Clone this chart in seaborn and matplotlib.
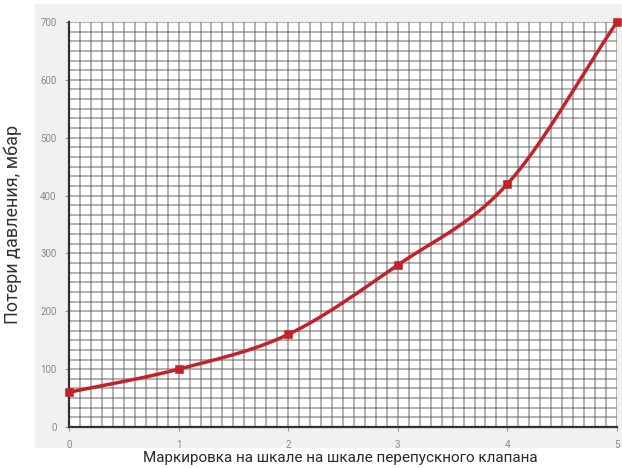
import numpy as np
import pandas as pd
import matplotlib
matplotlib.use("Agg")
import matplotlib.pyplot as plt
import seaborn as sns

# Valve scale setting vs pressure loss
marks = [0, 1, 2, 3, 4, 5]
loss_mbar = [60, 100, 160, 280, 420, 700]
x_ticks = [0, 1, 2, 3, 4, 5]
y_ticks = [0, 100, 200, 300, 400, 500, 600, 700]
x_label = "Маркировка на шкале на шкале перепускного клапана"
y_label = "Потери давления, мбар"


def catmull_rom(xs, ys, n=40):
    """Smooth curve through the given points (Catmull-Rom segments)."""
    xs = np.asarray(xs, float)
    ys = np.asarray(ys, float)
    px = np.concatenate([[2 * xs[0] - xs[1]], xs, [2 * xs[-1] - xs[-2]]])
    py = np.concatenate([[2 * ys[0] - ys[1]], ys, [2 * ys[-1] - ys[-2]]])
    out_x, out_y = [], []
    t = np.linspace(0, 1, n, endpoint=False)
    for i in range(1, len(px) - 2):
        for arr, out in ((px, out_x), (py, out_y)):
            p0, p1, p2, p3 = arr[i - 1], arr[i], arr[i + 1], arr[i + 2]
            seg = 0.5 * ((2 * p1) + (-p0 + p2) * t
                         + (2 * p0 - 5 * p1 + 4 * p2 - p3) * t ** 2
                         + (-p0 + 3 * p1 - 3 * p2 + p3) * t ** 3)
            out.extend(seg)
    out_x.append(xs[-1])
    out_y.append(ys[-1])
    return np.array(out_x), np.array(out_y)


sns.set_theme(style="white")
plt.rcParams["font.family"] = ["Roboto", "DejaVu Sans"]

fig = plt.figure(figsize=(6.22, 4.68), dpi=100)
fig.patch.set_facecolor("white")

# light grey panel behind the plot
bg = fig.add_axes([35 / 622, 1 - 448 / 468, 1 - 35 / 622, 444 / 468])
bg.set_facecolor("#f1f1f1")
bg.set_xticks([])
bg.set_yticks([])
for s in bg.spines.values():
    s.set_visible(False)
bg.set_zorder(0)

ax = fig.add_axes([69 / 622, 1 - 427 / 468, 548 / 622, 405 / 468])
ax.set_zorder(1)
ax.set_facecolor("white")

# graph-paper grid
for gx in np.arange(0, 5.0001, 0.1):
    ax.axvline(gx, color="#5a5a5a", lw=1.1, alpha=0.6, zorder=1)
for gy in np.arange(0, 700.001, 700 / 42):
    ax.axhline(gy, color="#5a5a5a", lw=1.1, alpha=0.6, zorder=1)

sx, sy = catmull_rom(marks, loss_mbar)
curve = pd.DataFrame({"x": sx, "y": sy})
pts = pd.DataFrame({"x": marks, "y": loss_mbar})

red = "#c4222a"
sns.lineplot(data=curve, x="x", y="y", ax=ax, color=red, lw=2.5,
             sort=False, zorder=3, clip_on=False)
sns.scatterplot(data=pts, x="x", y="y", ax=ax, marker="s", s=28,
                color=red, edgecolor=red, zorder=4, clip_on=False)

ax.set_xlim(0, 5)
ax.set_ylim(0, 700)
ax.set_xticks(x_ticks)
ax.set_yticks(y_ticks)
ax.set_xticklabels([str(v) for v in x_ticks])
ax.set_yticklabels([str(v) for v in y_ticks])
ax.tick_params(axis="both", labelsize=7, colors="#9a9a9a", length=3,
               width=0.8, direction="out", pad=6)
ax.tick_params(axis="both", colors="#9a9a9a", labelcolor="#8a8a8a")
ax.xaxis.set_ticks_position("bottom")
ax.yaxis.set_ticks_position("left")

for side in ("top", "right"):
    ax.spines[side].set_visible(False)
for side in ("left", "bottom"):
    ax.spines[side].set_color("#333333")
    ax.spines[side].set_linewidth(1.6)

ax.set_xlabel("")
ax.set_ylabel("")
fig.text(340 / 622, 1 - 458 / 468, x_label, ha="center", va="center",
         fontsize=11, color="#2a2a2a")
fig.text(13 / 622, 1 - 224 / 468, y_label, ha="center", va="center",
         rotation=90, fontsize=13, color="#333333")

fig.savefig("out.png", dpi=100)
